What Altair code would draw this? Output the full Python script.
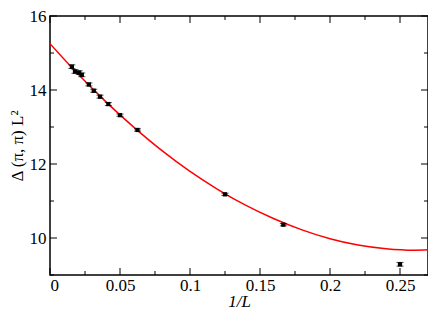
import altair as alt
import pandas as pd

# data
inv_L = [1/64, 1/56, 1/48, 1/44, 1/36, 1/32, 1/28, 1/24, 1/20, 1/16, 1/8, 1/6, 1/4]
gap = [14.63, 14.50, 14.47, 14.41, 14.15, 13.98, 13.82, 13.62, 13.32, 12.92, 11.18, 10.36, 9.29]
err = [0.05, 0.05, 0.05, 0.05, 0.04, 0.04, 0.04, 0.04, 0.03, 0.03, 0.03, 0.03, 0.05]

fit_x = [0.0, 0.02, 0.04, 0.06, 0.08, 0.10, 0.12, 0.14, 0.16, 0.18, 0.20, 0.22, 0.24, 0.26, 0.27]
fit_y = [15.25, 14.43, 13.68, 12.99, 12.36, 11.80, 11.31, 10.88, 10.52, 10.22, 9.98, 9.81, 9.71, 9.67, 9.68]

x_major = [0, 0.05, 0.1, 0.15, 0.2, 0.25]
x_minor = [0.025, 0.075, 0.125, 0.175, 0.225]
y_major = [10, 12, 14, 16]
y_minor = [9, 11, 13, 15]

W, H = 378, 259
FONT = "Times New Roman, Liberation Serif, DejaVu Serif, serif"
FS = 17

pts = pd.DataFrame({"x": inv_L, "y": gap,
                    "lo": [g - e for g, e in zip(gap, err)],
                    "hi": [g + e for g, e in zip(gap, err)]})
fit = pd.DataFrame({"x": fit_x, "y": fit_y})

xs = alt.Scale(domain=[0, 0.27], nice=False, zero=False)
ys = alt.Scale(domain=[9, 16], nice=False, zero=False)

xaxis = alt.Axis(values=x_major, ticks=False, domain=False, grid=False,
                 labelFont=FONT, labelFontSize=FS, labelColor="black", labelPadding=2,
                 title="1/L", titleFont=FONT, titleFontSize=FS, titleFontStyle="italic",
                 titleFontWeight="normal", titleColor="black", titlePadding=0,
                 labelExpr="datum.value == 0 ? '0' : format(datum.value, '')")
yaxis = alt.Axis(values=y_major, ticks=False, domain=False, grid=False,
                 labelFont=FONT, labelFontSize=FS, labelColor="black", labelPadding=4,
                 title="Δ (π, π) L²", titleFont=FONT, titleFontSize=FS,
                 titleFontWeight="normal", titleColor="black", titlePadding=3)

curve = alt.Chart(fit).mark_line(color="#ff0000", strokeWidth=1.5, interpolate="monotone", clip=True).encode(
    x=alt.X("x:Q", scale=xs, axis=xaxis),
    y=alt.Y("y:Q", scale=ys, axis=yaxis),
)

bars = alt.Chart(pts).mark_rule(color="black", strokeWidth=1).encode(
    x=alt.X("x:Q", scale=xs), y=alt.Y("lo:Q", scale=ys), y2="hi:Q")
cap_lo = alt.Chart(pts).mark_tick(color="black", orient="horizontal", size=7, thickness=1).encode(
    x=alt.X("x:Q", scale=xs), y=alt.Y("lo:Q", scale=ys))
cap_hi = alt.Chart(pts).mark_tick(color="black", orient="horizontal", size=7, thickness=1).encode(
    x=alt.X("x:Q", scale=xs), y=alt.Y("hi:Q", scale=ys))
dots = alt.Chart(pts).mark_square(color="black", size=18, opacity=1).encode(
    x=alt.X("x:Q", scale=xs), y=alt.Y("y:Q", scale=ys))

def xticks(vals, ln):
    d = pd.DataFrame({"t": vals})
    b = alt.Chart(d).mark_rule(color="black", strokeWidth=1).encode(
        x=alt.X("t:Q", scale=xs), y=alt.value(H), y2=alt.value(H - ln))
    t = alt.Chart(d).mark_rule(color="black", strokeWidth=1).encode(
        x=alt.X("t:Q", scale=xs), y=alt.value(0), y2=alt.value(ln))
    return [b, t]

def yticks(vals, ln):
    d = pd.DataFrame({"t": vals})
    l = alt.Chart(d).mark_rule(color="black", strokeWidth=1).encode(
        y=alt.Y("t:Q", scale=ys), x=alt.value(0), x2=alt.value(ln))
    r = alt.Chart(d).mark_rule(color="black", strokeWidth=1).encode(
        y=alt.Y("t:Q", scale=ys), x=alt.value(W), x2=alt.value(W - ln))
    return [l, r]

layers = [curve] + xticks(x_major, 7) + xticks(x_minor, 4) + yticks(y_major, 7) + yticks(y_minor, 4) + [bars, cap_lo, cap_hi, dots]

chart = alt.layer(*layers).properties(
    width=W, height=H,
    autosize=alt.AutoSizeParams(type="none"),
    padding={"left": 42, "top": 8, "right": 0, "bottom": 36},
).configure(font=FONT).configure_axis(labelFont=FONT, titleFont=FONT).configure_view(stroke="black", strokeWidth=1.5)

chart.save("out.html", embed_options={"renderer": "svg", "actions": False})
